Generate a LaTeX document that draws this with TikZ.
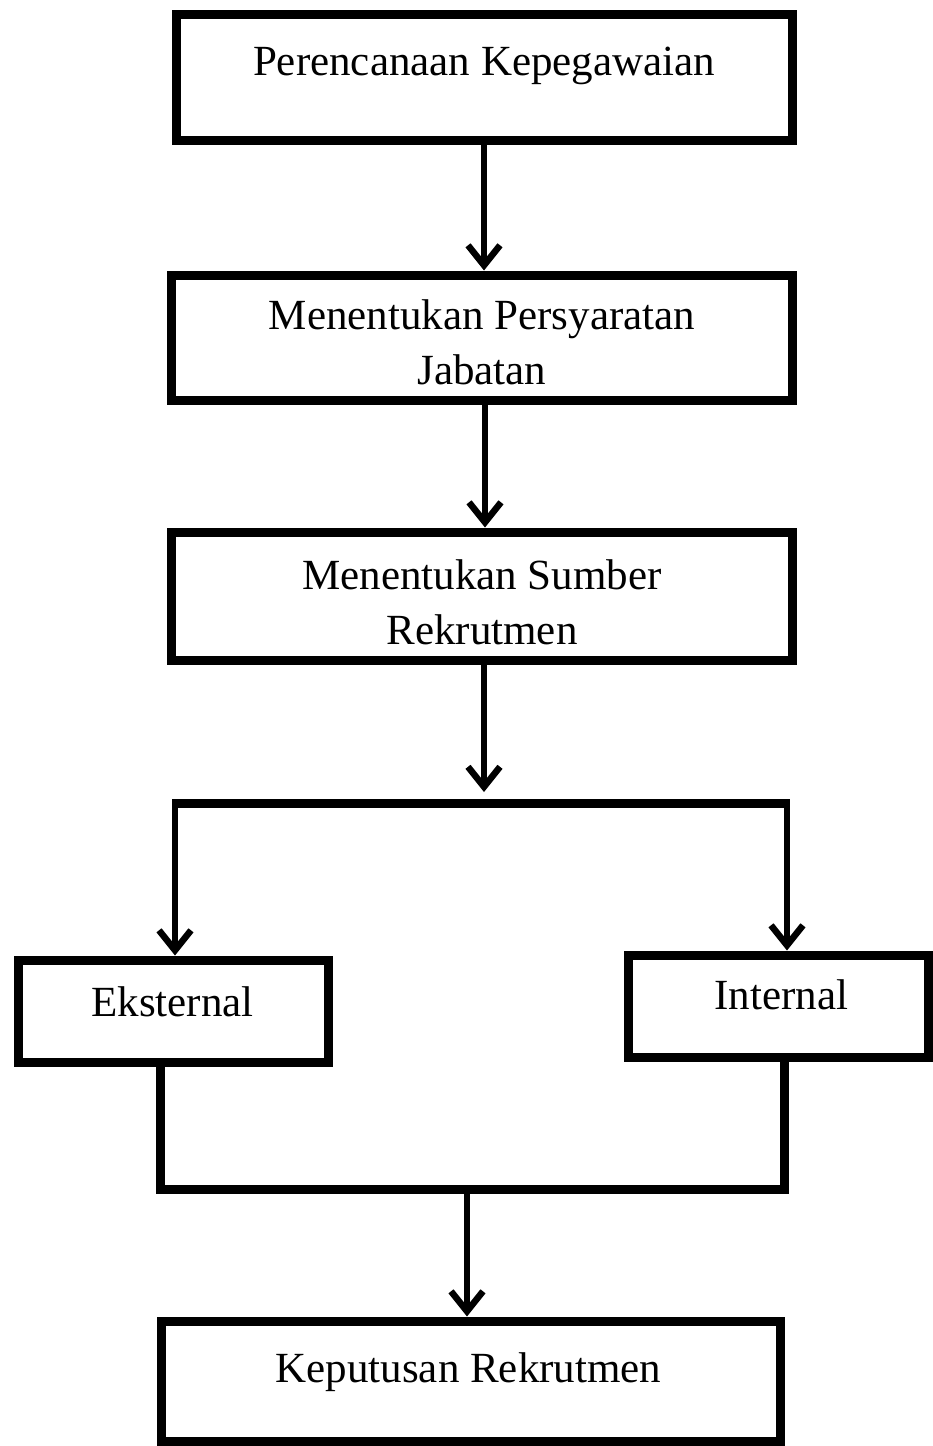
\documentclass[tikz,border=0pt]{standalone}
\usepackage{fontspec}
\setmainfont{Liberation Serif}
\usetikzlibrary{arrows.meta}
\begin{document}
\begin{tikzpicture}[x=1pt,y=-1pt,
  box/.style={draw=black, line width=9pt, rectangle, inner sep=0pt, fill=white},
  lbl/.style={inner sep=0pt, anchor=base, align=center, font=\fontsize{43pt}{55pt}\selectfont},
  arr/.style={line width=6pt, -{Straight Barb[length=20pt,width=32pt,line width=6.5pt]}},
  joinline/.style={line width=9pt, line join=miter}
]
\useasboundingbox (0,0) rectangle (933,1446);
% boxes
\node[box, minimum width=616pt, minimum height=126pt] (b1) at (484,77) {};
\node[box, minimum width=621pt, minimum height=125pt] (b2) at (481.5,337.5) {};
\node[box, minimum width=621pt, minimum height=128pt] (b3) at (481.5,596) {};
\node[box, minimum width=310pt, minimum height=102pt] (ext) at (173,1011) {};
\node[box, minimum width=300pt, minimum height=102pt] (int) at (778,1006) {};
\node[box, minimum width=619pt, minimum height=120pt] (b6) at (470.5,1381) {};
% texts
\node[lbl] (t1) at (484,75) {Perencanaan Kepegawaian};
\node[lbl] (t2) at (482,384) {Menentukan Persyaratan\\Jabatan};
\node[lbl] (t3) at (482,644) {Menentukan Sumber\\Rekrutmen};
\node[lbl] (t4) at (172.5,1016) {Eksternal};
\node[lbl] (t5) at (781.5,1009) {Internal};
\node[lbl] (t6) at (468.5,1382) {Keputusan Rekrutmen};
% connectors
\coordinate (c1) at (484,0);
\coordinate (c2) at (485,0);
\coordinate (split) at (484,803);
\coordinate (sl) at (175,803);
\coordinate (sr) at (787,803);
\coordinate (jl) at (160,1189);
\coordinate (jr) at (784,1189);
\coordinate (jm) at (467,1189);
\draw[arr] (b1.south -| c1) -- (b2.north -| c1);
\draw[arr] (b2.south -| c2) -- (b3.north -| c2);
\draw[arr] (b3.south -| split) -- ([yshift=11pt]split);
\draw[joinline] ([xshift=-3pt]sl) -- ([xshift=3pt]sr);
\draw[arr] ([yshift=-4pt]sl) -- (ext.north -| sl);
\draw[arr] ([yshift=-4pt]sr) -- (int.north -| sr);
\draw[joinline] (ext.south -| jl) -- (jl) -- (jr) -- (int.south -| jr);
\draw[arr] (jm) -- (b6.north -| jm);
\end{tikzpicture}
\end{document}
